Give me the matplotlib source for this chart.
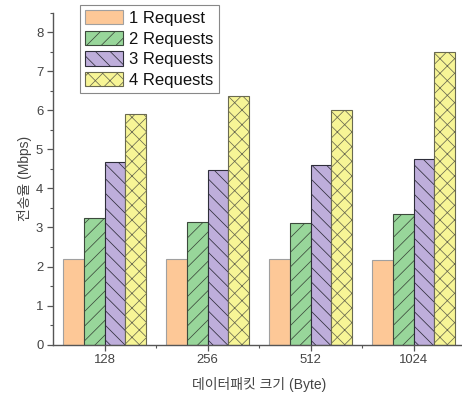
import numpy as np
import matplotlib
matplotlib.use("Agg")
import matplotlib.pyplot as plt
from matplotlib.ticker import MultipleLocator, FixedLocator

# Render at a lower dpi so the hatch pattern is a little coarser; every
# point-based size is scaled by S to keep the pixel layout unchanged.
DPI = 88
S = 100 / DPI

plt.rcParams['font.family'] = ['Liberation Sans', 'Noto Sans CJK KR', 'DejaVu Sans']
plt.rcParams['hatch.linewidth'] = 0.55 * S

sizes = ['128', '256', '512', '1024']
series = ['1 Request', '2 Requests', '3 Requests', '4 Requests']
req1 = [2.19, 2.19, 2.19, 2.17]
req2 = [3.25, 3.15, 3.11, 3.35]
req3 = [4.68, 4.48, 4.59, 4.76]
req4 = [5.92, 6.36, 6.02, 7.51]

colors = ['#FDC897', '#98D69A', '#BEAEDB', '#F7F596']
edges = ['#A0A0A0', '#3c4a3c', '#2e2e3a', '#6a6a50']
hatches = ['', '//', '\\\\', 'xx']

fig = plt.figure(figsize=(462 / DPI, 400 / DPI), dpi=DPI)
ax = fig.add_axes([53 / 462, 1 - 344.5 / 400, 412 / 462, 331.5 / 400])

x = np.arange(len(sizes))
w = 0.2
for i, vals in enumerate([req1, req2, req3, req4]):
    ax.bar(x + (i - 1.5) * w, vals, width=w, color=colors[i], edgecolor=edges[i],
           hatch=hatches[i], linewidth=0.8 * S, label=series[i], zorder=2)

ax.set_xlim(-0.5, 3.5)
ax.set_ylim(0, 8.5)
ax.set_xticks(x)
ax.set_xticklabels(sizes)
ax.xaxis.set_minor_locator(FixedLocator([0.5, 1.5, 2.5]))
ax.yaxis.set_major_locator(MultipleLocator(1))
ax.yaxis.set_minor_locator(MultipleLocator(0.5))

for s in ['top', 'right']:
    ax.spines[s].set_visible(False)
for s in ['left', 'bottom']:
    ax.spines[s].set_color('#555555')
    ax.spines[s].set_linewidth(1.0 * S)

ax.tick_params(axis='both', which='major', direction='out', length=4 * S, width=0.9 * S,
               color='#555555', labelsize=9.5 * S, labelcolor='#444444', pad=3 * S)
ax.tick_params(axis='both', which='minor', direction='out', length=2.2 * S, width=0.8 * S,
               color='#555555')

ax.set_ylabel('전송율 (Mbps)', fontsize=10 * S, color='#444444', labelpad=2.5 * S)
ax.set_xlabel('데이터패킷 크기 (Byte)', fontsize=10 * S, color='#444444', labelpad=8 * S)

leg = ax.legend(loc='upper left', bbox_to_anchor=(0.0655, 1.024), borderaxespad=0,
                fontsize=12 * S, handlelength=2.3, handleheight=0.95, labelspacing=0.28,
                handletextpad=0.35, borderpad=0.3, fancybox=False, framealpha=1,
                edgecolor='#888888')
leg.get_frame().set_linewidth(0.8 * S)
for t in leg.get_texts():
    t.set_color('#111111')

fig.savefig('out.png', dpi=DPI)
